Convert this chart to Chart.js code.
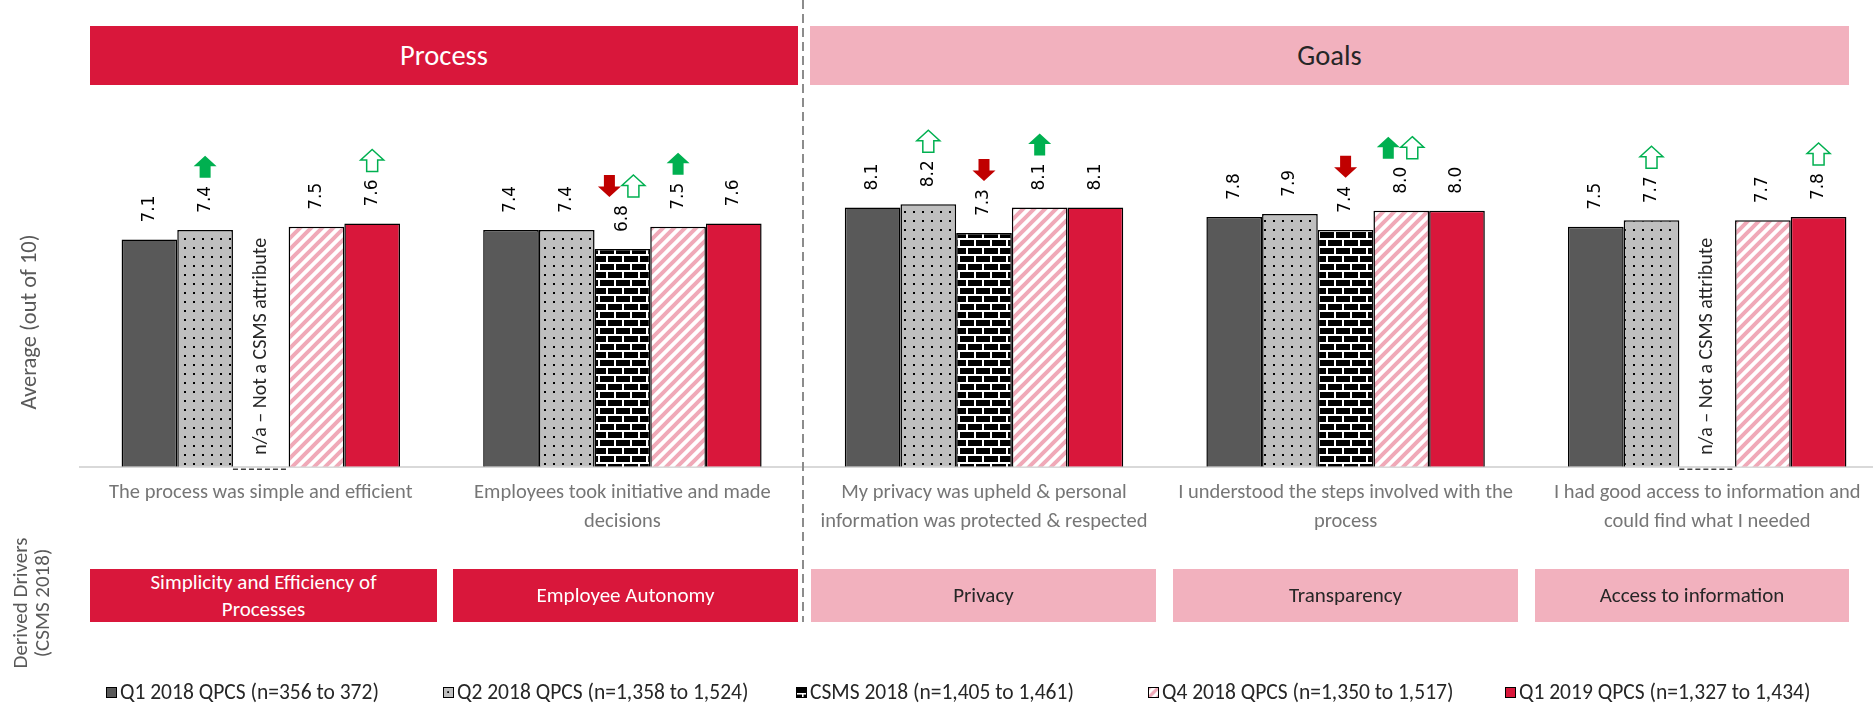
<!DOCTYPE html>
<html lang="en">
<head>
  <meta charset="UTF-8">
  <title>Process and Goals drivers</title>
  <script src="https://cdn.jsdelivr.net/npm/chart.js"></script>
  <style>
    body {
      margin: 0;
      width: 1873px;
      height: 704px;
      overflow: hidden;
      position: relative;
      background: #fff;
      font-family: Carlito, Lato, sans-serif;
    }

    #chart-container {
      position: absolute;
      left: 0;
      top: 0;
      width: 1890px;
      height: 704px;
    }

    .box {
      position: absolute;
      display: flex;
      align-items: center;
      justify-content: center;
      text-align: center;
      box-sizing: border-box;
    }

    .hdr {
      top: 26px;
      height: 59px;
      font-size: 28.5px;
      font-weight: 300;
    }

    .drv {
      top: 569px;
      height: 53px;
      font-size: 21px;
      line-height: 27px;
      font-weight: 300;
      padding: 0 30px;
    }

    .red { background: #d9173b; color: #fff; }
    .pink { background: #f2b1be; color: #262626; }

    #vline {
      position: absolute;
      left: 802px;
      top: 0;
      width: 2px;
      height: 622px;
      background: repeating-linear-gradient(to bottom, #8c8c8c 0 9px, transparent 9px 14px);
    }

    .vtitle {
      position: absolute;
      transform: translate(-50%, -50%) rotate(-90deg);
      white-space: nowrap;
      text-align: center;
      color: #595959;
    }

    .legend-item {
      position: absolute;
      top: 680px;
      height: 24px;
      display: flex;
      align-items: center;
      font-size: 21.5px;
      color: #262626;
      white-space: nowrap;
    }

    .legend-item canvas {
      width: 11px;
      height: 11px;
      margin-right: 3px;
      box-sizing: border-box;
      border: 1px solid #000;
    }
  </style>
</head>
<body>
  <div id="chart-container">
    <canvas id="driverChart"></canvas>
  </div>
  <div id="vline"></div>
  <div id="overlay"></div>

  <script>
    // 카테고리 (x축 라벨)
    const categories = [
      'The process was simple and efficient',
      ['Employees took initiative and made', 'decisions'],
      ['My privacy was upheld & personal', 'information was protected & respected'],
      ['I understood the steps involved with the', 'process'],
      ['I had good access to information and', 'could find what I needed']
    ];

    const seriesNames = [
      'Q1 2018 QPCS (n=356 to 372)',
      'Q2 2018 QPCS (n=1,358 to 1,524)',
      'CSMS 2018 (n=1,405 to 1,461)',
      'Q4 2018 QPCS (n=1,350 to 1,517)',
      'Q1 2019 QPCS (n=1,327 to 1,434)'
    ];

    const q1_2018 = [7.1, 7.4, 8.1, 7.8, 7.5];
    const q2_2018 = [7.4, 7.4, 8.2, 7.9, 7.7];
    const csms2018 = [null, 6.8, 7.3, 7.4, null];
    const q4_2018 = [7.5, 7.5, 8.1, 8.0, 7.7];
    const q1_2019 = [7.6, 7.6, 8.1, 8.0, 7.8];

    // 변화 화살표: U = 유의미 상승, O = 상승(빈 화살표), D = 하락
    const arrowsQ1_2018 = ['', '', '', '', ''];
    const arrowsQ2_2018 = ['U', '', 'O', '', 'O'];
    const arrowsCsms = ['', 'DO', 'D', 'D', ''];
    const arrowsQ4_2018 = ['', 'U', 'U', 'UO', ''];
    const arrowsQ1_2019 = ['O', '', '', '', 'O'];

    const sectionNames = ['Process', 'Goals'];
    const driverNames = [
      ['Simplicity and Efficiency of', 'Processes'],
      ['Employee Autonomy'],
      ['Privacy'],
      ['Transparency'],
      ['Access to information']
    ];

    const yTitle = 'Average (out of 10)';
    const driverTitle = ['Derived Drivers', '(CSMS 2018)'];
    const naText = 'n/a \u2013 Not a CSMS attribute';

    const seriesValues = [q1_2018, q2_2018, csms2018, q4_2018, q1_2019];
    const seriesArrows = [arrowsQ1_2018, arrowsQ2_2018, arrowsCsms, arrowsQ4_2018, arrowsQ1_2019];

    const CRIMSON = '#d9173b';

    // 패턴 만들기
    function makeTile(kind) {
      const p = document.createElement('canvas');
      const g = p.getContext('2d');
      if (kind === 'dots') {
        p.width = 9; p.height = 9;
        g.fillStyle = '#bfbfbf'; g.fillRect(0, 0, 9, 9);
        g.fillStyle = '#000'; g.fillRect(4, 4, 2, 2);
      } else if (kind === 'brick') {
        p.width = 16; p.height = 16;
        g.fillStyle = '#000'; g.fillRect(0, 0, 16, 16);
        g.fillStyle = '#fff';
        g.fillRect(0, 6, 16, 2);
        g.fillRect(0, 14, 16, 2);
        g.fillRect(14, 0, 2, 6);
        g.fillRect(6, 8, 2, 6);
      } else if (kind === 'stripe') {
        p.width = 11; p.height = 11;
        g.fillStyle = '#fff'; g.fillRect(0, 0, 11, 11);
        g.strokeStyle = '#f0a9b8'; g.lineWidth = 4;
        g.beginPath();
        g.moveTo(-5.5, 5.5); g.lineTo(5.5, -5.5);
        g.moveTo(0, 11); g.lineTo(11, 0);
        g.moveTo(5.5, 16.5); g.lineTo(16.5, 5.5);
        g.stroke();
      } else {
        p.width = 4; p.height = 4;
        g.fillStyle = kind; g.fillRect(0, 0, 4, 4);
      }
      return p;
    }

    const fillKinds = ['#595959', 'dots', 'brick', 'stripe', CRIMSON];
    const patCtx = document.createElement('canvas').getContext('2d');
    const fills = fillKinds.map(k => k.startsWith('#') ? k : patCtx.createPattern(makeTile(k), 'repeat'));

    // 화살표 그리기
    function drawArrow(c, cx, bottom, type) {
      const w = 11.5, h = 22, head = 10.5, sw = 5.5;
      const top = bottom - h;
      c.save();
      c.beginPath();
      if (type === 'D') {
        c.moveTo(cx - sw, top);
        c.lineTo(cx + sw, top);
        c.lineTo(cx + sw, bottom - head);
        c.lineTo(cx + w, bottom - head);
        c.lineTo(cx, bottom);
        c.lineTo(cx - w, bottom - head);
        c.lineTo(cx - sw, bottom - head);
      } else {
        c.moveTo(cx, top);
        c.lineTo(cx + w, top + head);
        c.lineTo(cx + sw, top + head);
        c.lineTo(cx + sw, bottom);
        c.lineTo(cx - sw, bottom);
        c.lineTo(cx - sw, top + head);
        c.lineTo(cx - w, top + head);
      }
      c.closePath();
      if (type === 'D') {
        c.fillStyle = '#c00000'; c.fill();
      } else if (type === 'U') {
        c.fillStyle = '#00b050'; c.fill();
      } else {
        c.fillStyle = '#fff'; c.fill();
        c.strokeStyle = '#00b050'; c.lineWidth = 1.5; c.stroke();
      }
      c.restore();
    }

    // 라벨, 화살표, n/a 표시
    const decorPlugin = {
      id: 'decor',
      afterDatasetsDraw(chart) {
        const c = chart.ctx;
        const base = chart.scales.y.getPixelForValue(0);
        chart.data.datasets.forEach((ds, i) => {
          const meta = chart.getDatasetMeta(i);
          meta.data.forEach((bar, j) => {
            const v = ds.data[j];
            if (v === null) {
              const half = bar.width / 2;
              c.save();
              c.strokeStyle = '#404040';
              c.lineWidth = 1.5;
              c.setLineDash([5, 3]);
              c.beginPath();
              c.moveTo(bar.x - half, base + 2.5);
              c.lineTo(bar.x + half, base + 2.5);
              c.stroke();
              c.translate(bar.x, base - 12);
              c.rotate(-Math.PI / 2);
              c.font = '20px Carlito, Lato, sans-serif';
              c.fillStyle = '#262626';
              c.textAlign = 'left';
              c.textBaseline = 'middle';
              c.fillText(naText, 0, 0);
              c.restore();
              return;
            }
            const txt = v.toFixed(1);
            c.save();
            c.font = '17px "DejaVu Sans", sans-serif';
            const len = c.measureText(txt).width;
            c.translate(bar.x, bar.y - 17);
            c.rotate(-Math.PI / 2);
            c.fillStyle = '#000';
            c.textAlign = 'left';
            c.textBaseline = 'middle';
            c.fillText(txt, 0, 0);
            c.restore();

            const marks = seriesArrows[i][j];
            if (marks) {
              const bottom = bar.y - 17 - len - 8;
              const offs = marks.length === 2 ? [-13, 11] : [0];
              marks.split('').forEach((m, k) => drawArrow(c, bar.x + offs[k], bottom, m));
            }
          });
        });
      }
    };

    const ctx = document.getElementById('driverChart').getContext('2d');
    new Chart(ctx, {
      type: 'bar',
      data: {
        labels: categories,
        datasets: seriesNames.map((name, i) => ({
          label: name,
          data: seriesValues[i],
          backgroundColor: fills[i],
          borderColor: '#000',
          borderWidth: 1.5,
          categoryPercentage: 0.77,
          barPercentage: 1.0
        }))
      },
      options: {
        responsive: true,
        maintainAspectRatio: false,
        animation: false,
        layout: { padding: { left: 80, right: 2, top: 146.7, bottom: 0 } },
        plugins: {
          legend: { display: false },
          tooltip: { enabled: false }
        },
        scales: {
          x: {
            grid: { display: false, drawTicks: false },
            border: { display: true, color: '#d9d9d9', width: 2 },
            ticks: {
              padding: 12,
              color: '#767676',
              maxRotation: 0,
              autoSkip: false,
              font: { family: 'Carlito, Lato, sans-serif', size: 20.5, lineHeight: 1.4 }
            },
            afterFit(scale) { scale.height = 237.3; }
          },
          y: { display: false, min: 0, max: 10 }
        }
      },
      plugins: [decorPlugin]
    });

    // 머리글, 드라이버 상자, 축 제목, 범례
    const overlay = document.getElementById('overlay');
    const sectionBoxes = [[90, 798, 'red'], [810, 1849, 'pink']];
    sectionNames.forEach((name, i) => {
      const d = document.createElement('div');
      d.className = 'box hdr ' + sectionBoxes[i][2];
      d.style.left = sectionBoxes[i][0] + 'px';
      d.style.width = (sectionBoxes[i][1] - sectionBoxes[i][0]) + 'px';
      d.textContent = name;
      overlay.appendChild(d);
    });

    const driverBoxes = [[90, 437, 'red'], [453, 798, 'red'], [811, 1156, 'pink'], [1173, 1518, 'pink'], [1535, 1849, 'pink']];
    driverNames.forEach((lines, i) => {
      const d = document.createElement('div');
      d.className = 'box drv ' + driverBoxes[i][2];
      d.style.left = driverBoxes[i][0] + 'px';
      d.style.width = (driverBoxes[i][1] - driverBoxes[i][0]) + 'px';
      d.innerHTML = lines.join('<br>');
      overlay.appendChild(d);
    });

    function addVTitle(lines, x, y, size, lh) {
      const d = document.createElement('div');
      d.className = 'vtitle';
      d.style.left = x + 'px';
      d.style.top = y + 'px';
      d.style.fontSize = size + 'px';
      d.style.lineHeight = lh + 'px';
      d.innerHTML = [].concat(lines).join('<br>');
      overlay.appendChild(d);
    }
    addVTitle(yTitle, 29, 322, 22.5, 26);
    addVTitle(driverTitle, 31, 603, 21, 22);

    const legendLeft = [106, 443, 796, 1148, 1505];
    seriesNames.forEach((name, i) => {
      const item = document.createElement('div');
      item.className = 'legend-item';
      item.style.left = legendLeft[i] + 'px';
      const sw = document.createElement('canvas');
      sw.width = 11; sw.height = 11;
      const g = sw.getContext('2d');
      g.fillStyle = g.createPattern(makeTile(fillKinds[i]), 'repeat');
      g.fillRect(0, 0, 11, 11);
      item.appendChild(sw);
      const t = document.createElement('span');
      t.textContent = name;
      item.appendChild(t);
      overlay.appendChild(item);
    });
  </script>
</body>
</html>
